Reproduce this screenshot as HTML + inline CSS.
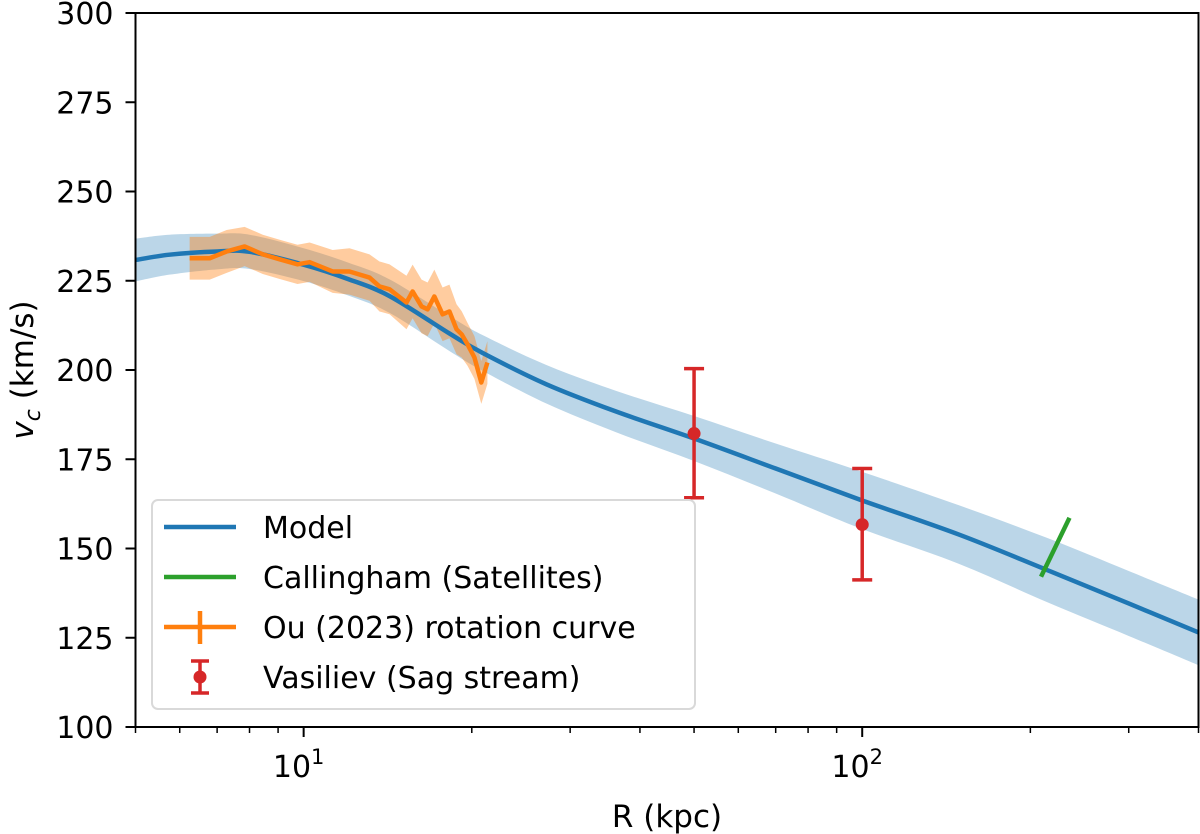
<!DOCTYPE html>
<html><head><meta charset="utf-8"><style>
html,body{margin:0;padding:0;background:#fff;}
svg{display:block;font-family:"DejaVu Sans","Liberation Sans",sans-serif;}
</style></head><body>
<svg id="chart" width="1200" height="834" viewBox="0 0 1200 834" xmlns="http://www.w3.org/2000/svg">
<g id="plot"></g>
<g id="axes"></g>
<text x="667" y="827" font-size="31" text-anchor="middle">R (kpc)</text>
<text transform="translate(33,370) rotate(-90)" font-size="31" text-anchor="middle"><tspan font-style="italic">v</tspan><tspan font-style="italic" font-size="22" dy="7">c</tspan><tspan dy="-7"> (km/s)</tspan></text>
<g id="legend">
  <rect x="152" y="500" width="543" height="209" rx="6" fill="#fff" fill-opacity="0.8" stroke="#d9d9d9" stroke-width="2"/>
  <g>
    <line x1="164" y1="527" x2="236" y2="527" stroke="#1f77b4" stroke-width="4.5"/>
    <text x="263" y="538" font-size="30">Model</text>
  </g>
  <g>
    <line x1="164" y1="577" x2="236" y2="577" stroke="#2ca02c" stroke-width="4.5"/>
    <text x="263" y="588" font-size="30">Callingham (Satellites)</text>
  </g>
  <g>
    <line x1="164" y1="627" x2="236" y2="627" stroke="#ff7f0e" stroke-width="4.5"/>
    <line x1="200" y1="611" x2="200" y2="644" stroke="#ff7f0e" stroke-width="4.5"/>
    <text x="263" y="638" font-size="30">Ou (2023) rotation curve</text>
  </g>
  <g>
    <line x1="200" y1="661" x2="200" y2="693" stroke="#d62728" stroke-width="3.5"/>
    <line x1="191" y1="661" x2="209" y2="661" stroke="#d62728" stroke-width="3.5"/>
    <line x1="191" y1="693" x2="209" y2="693" stroke="#d62728" stroke-width="3.5"/>
    <circle cx="200" cy="677" r="6.5" fill="#d62728"/>
    <text x="263" y="688" font-size="30">Vasiliev (Sag stream)</text>
  </g>
</g>
</svg>
<script>
// ---- data ----
const modelR = [5, 5.75, 7, 8, 10, 12, 14.25, 18.25, 20.9, 27.2, 36.2, 50, 70, 99, 149, 214, 300, 400];
const modelV = [230.8, 232.3, 233.2, 233.1, 229.5, 225.5, 220.7, 210.2, 204.8, 196, 188.4, 180.8, 172.4, 163.7, 153.9, 144, 134.6, 126.5];
const modelErr = [6, 5.6, 5, 4.8, 4.6, 4.6, 4.7, 4.9, 5, 5.4, 5.8, 6.3, 7, 8, 8.2, 9, 9.1, 9.2];
const ouR = [6.25, 6.79, 7.28, 7.84, 8.45, 9.06, 9.75, 10.25, 11.27, 12.08, 13.12, 13.67, 14.25, 15.28, 15.67, 16.26, 16.67, 17.14, 17.73, 18.24, 18.78, 19.18, 19.65, 20.22, 20.8, 21.33];
const ouV = [231.3, 231.3, 233.2, 234.6, 232.4, 231, 229.6, 230.2, 227.6, 227.6, 225.9, 223.4, 222.6, 218.9, 222, 217.8, 217, 220.6, 215.6, 216.4, 211.4, 210, 207.2, 203.5, 196.5, 202.1];
const ouErr = [6, 6, 6, 5.5, 5.5, 5.5, 5.5, 5.5, 6, 6.5, 6.5, 7, 7, 7.5, 7.5, 7.5, 7.5, 7.5, 7.5, 7.5, 7, 6.5, 6, 6, 6, 6];
const sagR = [50, 100];
const sagV = [182.2, 156.7];
const sagErrHi = [18.2, 15.7];
const sagErrLo = [18, 15.5];
const calR = [209, 235];
const calV = [142.1, 158.6];
const yTicks = [100, 125, 150, 175, 200, 225, 250, 275, 300];
const xMajor = [10, 100];
const xMajorLabels = ["1", "2"];
const xMinor = [5, 6, 7, 8, 9, 20, 30, 40, 50, 60, 70, 80, 90, 200, 300, 400];

// ---- axes ----
const X0 = 135.5, X1 = 1198.5, Y0 = 727, Y1 = 13;
const xMin = 5, xMax = 400, yMin = 100, yMax = 300;
function sx(r){ return X0 + (Math.log10(r) - Math.log10(xMin)) / (Math.log10(xMax) - Math.log10(xMin)) * (X1 - X0); }
function sy(v){ return Y0 - (v - yMin) / (yMax - yMin) * (Y0 - Y1); }

const NS = "http://www.w3.org/2000/svg";
function mk(tag, attrs, parent){
  const e = document.createElementNS(NS, tag);
  for (const k in attrs) e.setAttribute(k, attrs[k]);
  parent.appendChild(e);
  return e;
}
const plot = document.getElementById('plot');
const axes = document.getElementById('axes');

function smooth(pts){
  let d = "M" + pts[0][0] + "," + pts[0][1];
  for (let i = 0; i < pts.length - 1; i++){
    const p0 = pts[i-1] || pts[i], p1 = pts[i], p2 = pts[i+1], p3 = pts[i+2] || p2;
    const c1 = [p1[0] + (p2[0]-p0[0])/6, p1[1] + (p2[1]-p0[1])/6];
    const c2 = [p2[0] - (p3[0]-p1[0])/6, p2[1] - (p3[1]-p1[1])/6];
    d += " C" + c1[0] + "," + c1[1] + " " + c2[0] + "," + c2[1] + " " + p2[0] + "," + p2[1];
  }
  return d;
}

const defs = mk('defs', {}, plot);
const cp = mk('clipPath', {id: 'clip'}, defs);
mk('rect', {x: X0, y: Y1, width: X1 - X0, height: Y0 - Y1}, cp);
const g = mk('g', {'clip-path': 'url(#clip)'}, plot);

// model band
const up = modelR.map((r,i) => [sx(r), sy(modelV[i] + modelErr[i])]);
const lo = modelR.map((r,i) => [sx(r), sy(modelV[i] - modelErr[i])]).reverse();
const band = mk('path', {d: smooth(up) + " L" + lo[0][0] + "," + lo[0][1] + smooth(lo).replace(/^M[^C]*/, " ") + " Z", fill: '#1f77b4', 'fill-opacity': 0.3}, g);



// Ou band
let od = "";
ouR.forEach((r,i) => { od += (i ? " L" : "M") + sx(r) + "," + sy(ouV[i] + ouErr[i]); });
for (let i = ouR.length - 1; i >= 0; i--) od += " L" + sx(ouR[i]) + "," + sy(ouV[i] - ouErr[i]);
const ob = mk('path', {d: od + " Z", fill: '#ff7f0e', 'fill-opacity': 0.4}, g);



// model line
const ml = mk('path', {d: smooth(modelR.map((r,i) => [sx(r), sy(modelV[i])])), fill: 'none', stroke: '#1f77b4', 'stroke-width': 4.5}, g);



// Ou line
let ol = "";
ouR.forEach((r,i) => { ol += (i ? " L" : "M") + sx(r) + "," + sy(ouV[i]); });
const oul = mk('path', {d: ol, fill: 'none', stroke: '#ff7f0e', 'stroke-width': 4.5, 'stroke-linejoin': 'round'}, g);



// Callingham
const cl = mk('line', {x1: sx(calR[0]), y1: sy(calV[0]), x2: sx(calR[1]), y2: sy(calV[1]), stroke: '#2ca02c', 'stroke-width': 4.5}, g);



// Vasiliev points
sagR.forEach((r,i) => {
  const x = sx(r), yt = sy(sagV[i] + sagErrHi[i]), yb = sy(sagV[i] - sagErrLo[i]);
  const pg = mk('g', {}, g);
  
  
  mk('line', {x1: x, y1: yt, x2: x, y2: yb, stroke: '#d62728', 'stroke-width': 3.5}, pg);
  mk('line', {x1: x - 10, y1: yt, x2: x + 10, y2: yt, stroke: '#d62728', 'stroke-width': 3.5}, pg);
  mk('line', {x1: x - 10, y1: yb, x2: x + 10, y2: yb, stroke: '#d62728', 'stroke-width': 3.5}, pg);
  mk('circle', {cx: x, cy: sy(sagV[i]), r: 6.5, fill: '#d62728'}, pg);
});

// frame
const fr = mk('rect', {x: X0, y: Y1, width: X1 - X0, height: Y0 - Y1, fill: 'none', stroke: '#000', 'stroke-width': 2}, axes);



yTicks.forEach(v => {
  const y = sy(v);
  const t = mk('line', {x1: X0 - 10, y1: y, x2: X0, y2: y, stroke: '#000', 'stroke-width': 2}, axes);
  
  
  const l = mk('text', {x: X0 - 22, y: y + 11, 'font-size': 30, 'text-anchor': 'end'}, axes);
  
  
  l.textContent = v;
});

xMajor.forEach((r,i) => {
  const x = sx(r);
  const t = mk('line', {x1: x, y1: Y0, x2: x, y2: Y0 + 10, stroke: '#000', 'stroke-width': 2}, axes);
  
  
  const l = mk('text', {x: x - 5, y: Y0 + 50, 'font-size': 30, 'text-anchor': 'middle'}, axes);
  
  
  l.textContent = "10";
  const s = mk('tspan', {'font-size': 21, dy: -13}, l);
  s.textContent = xMajorLabels[i];
});
xMinor.forEach(r => {
  const x = sx(r);
  const t = mk('line', {x1: x, y1: Y0, x2: x, y2: Y0 + 6, stroke: '#000', 'stroke-width': 1.5}, axes);
  
  
});
</script>
</body></html>
